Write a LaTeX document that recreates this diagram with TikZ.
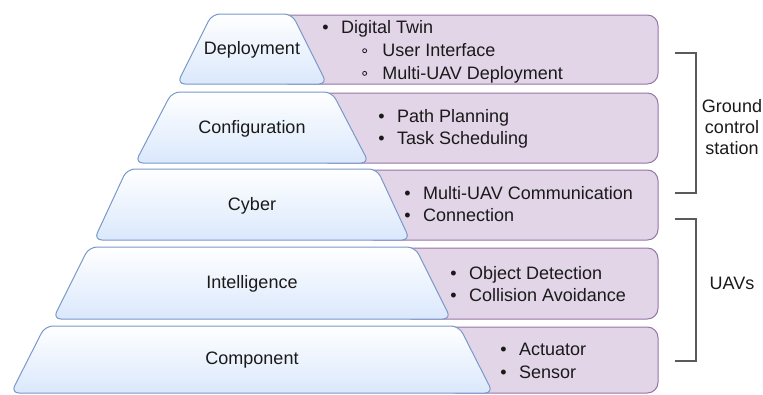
\documentclass[tikz,border=0pt]{standalone}
\usepackage{fontspec}
\setmainfont{Liberation Sans}
\usepackage{xcolor}
\usepackage{tikz}
\usetikzlibrary{positioning,calc}
\definecolor{tierline}{HTML}{7A98C8}
\definecolor{tierfill}{HTML}{DAE8FC}
\definecolor{taskline}{HTML}{9673A6}
\definecolor{taskfill}{HTML}{E1D5E7}
\definecolor{bracket}{HTML}{5A5A5A}
\definecolor{ink}{HTML}{1A1A1A}
\newcommand{\itm}{\makebox[1.05em][l]{\textbullet}}
\newcommand{\subitm}{\hspace*{30pt}\makebox[15pt][l]{\tikz[baseline=-0.33em]\draw[line width=0.6pt] (0pt,0pt) circle (1.5pt);}}
\tikzset{
  tier/.style     = {draw=tierline, top color=white, bottom color=tierfill, line width=0.75pt,
                     rounded corners=6pt},
  tasks/.style    = {draw=taskline, fill=taskfill, line width=0.75pt, rounded corners=8pt},
  tierlbl/.style  = {text=ink},
  list/.style     = {anchor=west, align=left, inner sep=0pt, text=ink},
  grp/.style      = {draw=bracket, line width=0.8pt},
  grplbl/.style   = {align=center, text=ink, font=\fontsize{13.5}{15.8}\selectfont},
}

\begin{document}
\begin{tikzpicture}[x=0.75pt, y=0.75pt, font=\fontsize{13.5}{17}\selectfont]
  \useasboundingbox (0,0) rectangle (763,394);

  %% ---- the pyramid: one task box behind each tier --------------------------------
  \foreach \n/\lbl/\yt/\yb/\wt/\wb in {dep/Deployment/380/310/40/75,
                                       cfg/Configuration/302/231/80/117,
                                       cyb/Cyber/225/154/125/158,
                                       int/Intelligence/147/75/163/199,
                                       cmp/Component/68/1/207/241} {
    \draw[tasks] (252+\wt-14,\yt-1) rectangle (658,\yb);
    \draw[tier] (252-\wb,\yb) -- (252-\wt,\yt) -- (252+\wt,\yt) -- (252+\wb,\yb) -- cycle;
    \node[tierlbl] (\n) at (252,{(\yt+\yb)/2-1}) {\lbl};
  }

  % what each tier does
  \node[list] (dep-tasks) at (322,342)
    {\itm Digital Twin\\ \subitm User Interface\\ \subitm Multi-UAV Deployment};
  \node[list] (cfg-tasks) at (378,265) {\itm Path Planning\\ \itm Task Scheduling};
  \node[list] (cyb-tasks) at (404,190) {\itm Multi-UAV Communication\\ \itm Connection};
  \node[list] (int-tasks) at (450,110) {\itm Object Detection\\ \itm Collision Avoidance};
  \node[list] (cmp-tasks) at (500,33)  {\itm Actuator\\ \itm Sensor};

  %% ---- where the tiers run -------------------------------------------------------
  \draw[grp] (675,341) -| (696,201) -- (675,201);
  \node[grplbl] (gcs) at (732,267) {Ground\\control\\station};
  \draw[grp] (675,175) -| (696,33) -- (675,33);
  \node[grplbl] (uav) at (732,111) {UAVs};
\end{tikzpicture}
\end{document}
